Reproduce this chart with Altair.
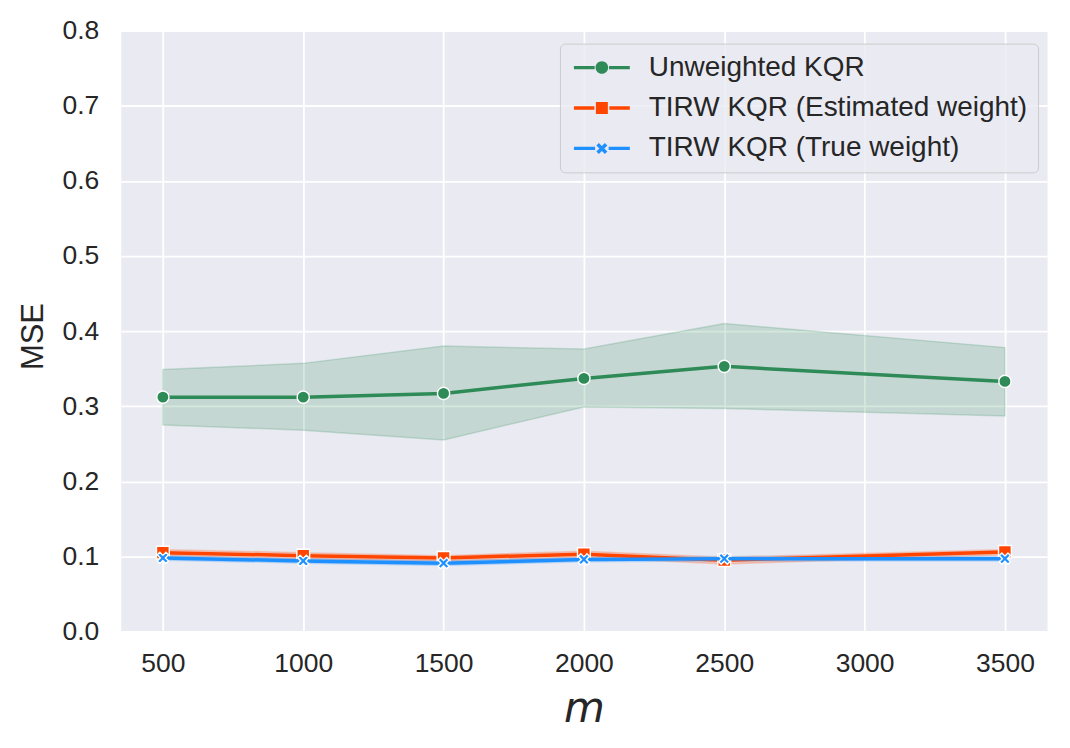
import altair as alt
import pandas as pd

# ---- data ----
m_vals = [500, 1000, 1500, 2000, 2500, 3500]
series_names = ["Unweighted KQR", "TIRW KQR (Estimated weight)", "TIRW KQR (True weight)"]
series_colors = ["#2E8B57", "#FF4500", "#1E90FF"]

unw_mean = [0.312, 0.312, 0.317, 0.337, 0.353, 0.333]
unw_lo = [0.275, 0.268, 0.255, 0.299, 0.297, 0.287]
unw_hi = [0.349, 0.357, 0.380, 0.376, 0.410, 0.378]

est_mean = [0.105, 0.101, 0.098, 0.103, 0.095, 0.106]
est_lo = [0.101, 0.097, 0.094, 0.099, 0.090, 0.102]
est_hi = [0.109, 0.105, 0.101, 0.107, 0.099, 0.109]

true_mean = [0.098, 0.094, 0.091, 0.096, 0.097, 0.097]
true_lo = [0.095, 0.091, 0.088, 0.093, 0.094, 0.094]
true_hi = [0.101, 0.097, 0.094, 0.099, 0.100, 0.100]

x_ticks = [500, 1000, 1500, 2000, 2500, 3000, 3500]
y_ticks = [0.0, 0.1, 0.2, 0.3, 0.4, 0.5, 0.6, 0.7, 0.8]

# ---- marker shapes ----
X_PATH = ("M1,-0.547L0.4525,0L1,0.547L0.547,1L0,0.4525L-0.547,1L-1,0.547"
          "L-0.4525,0L-1,-0.547L-0.547,-1L0,-0.4525L0.547,-1Z")
point_shapes = ["circle", "square", X_PATH]
point_sizes = [150, 165, 125]

LEG_CIRCLE = ("M-2.8,-0.17H-0.72V0.17H-2.8Z M0.72,-0.17H2.8V0.17H0.72Z "
              "M0.63,0A0.63,0.63,0,1,1,-0.63,0A0.63,0.63,0,1,1,0.63,0Z")
LEG_SQUARE = ("M-2.8,-0.17H-0.75V0.17H-2.8Z M0.75,-0.17H2.8V0.17H0.75Z "
              "M-0.6,-0.6H0.6V0.6H-0.6Z")
LEG_X = ("M-2.8,-0.17H-0.68V0.17H-2.8Z M0.68,-0.17H2.8V0.17H0.68Z "
         "M0.55,-0.3L0.249,0L0.55,0.3L0.3,0.55L0,0.249L-0.3,0.55L-0.55,0.3"
         "L-0.249,0L-0.55,-0.3L-0.3,-0.55L0,-0.249L0.3,-0.55Z")
legend_shapes = [LEG_CIRCLE, LEG_SQUARE, LEG_X]

rows = []
for name, mean, lo, hi in zip(series_names,
                              [unw_mean, est_mean, true_mean],
                              [unw_lo, est_lo, true_lo],
                              [unw_hi, est_hi, true_hi]):
    for x, a, b, c in zip(m_vals, mean, lo, hi):
        rows.append({"series": name, "m": x, "mse": a, "lo": b, "hi": c})
df = pd.DataFrame(rows)

FONT = "Liberation Sans"
TXT = "#262626"
BG = "#EAEAF2"

x_scale = alt.Scale(domain=[350, 3650], nice=False, zero=False)
y_scale = alt.Scale(domain=[0, 0.8], nice=False)
x_axis = alt.Axis(values=x_ticks, format="d", title="m", labelPadding=19, titleFont="DejaVu Sans",
                  titleFontStyle="italic", titleFontWeight="normal", titleFontSize=42,
                  titleY=90, titleBaseline="alphabetic", labelFlush=False)
y_axis = alt.Axis(values=y_ticks, format=".1f", title="MSE", labelPadding=22,
                  titleFont=FONT, titleFontWeight="normal", titleFontSize=31,
                  titleX=-78, titleY=306, titleBaseline="alphabetic", titleAlign="center",
                  titleAngle=270)

x_enc = alt.X("m:Q", scale=x_scale, axis=x_axis)

base = alt.Chart(df)
layers = []
for name, col in zip(series_names, series_colors):
    layers.append(
        base.transform_filter(alt.datum.series == name)
        .mark_area(color=col, fillOpacity=0.2, stroke=col, strokeOpacity=0.2, strokeWidth=1.5)
        .encode(x=x_enc, y=alt.Y("lo:Q", scale=y_scale, axis=y_axis), y2="hi:Q")
    )
for name, col, shp, sz in zip(series_names, series_colors, point_shapes, point_sizes):
    sub = base.transform_filter(alt.datum.series == name)
    layers.append(
        sub.mark_line(color=col, strokeWidth=3.5)
        .encode(x=x_enc, y=alt.Y("mse:Q", scale=y_scale, axis=y_axis))
    )
    layers.append(
        sub.mark_point(shape=shp, size=sz, filled=True, fill=col, stroke="white",
                       strokeWidth=1.4, opacity=1)
        .encode(x=x_enc, y=alt.Y("mse:Q", scale=y_scale, axis=y_axis))
    )

leg = alt.Legend(orient="none", legendX=440, legendY=13, padding=10, rowPadding=12.5,
                 symbolSize=400, symbolOffset=18, labelOffset=33, symbolStrokeWidth=0,
                 symbolOpacity=1, labelFont=FONT, labelFontSize=28, labelColor=TXT,
                 labelLimit=700, fillColor="rgba(234,234,242,0.8)", strokeColor="#CCCCCC",
                 cornerRadius=5)
layers.append(
    base.transform_filter("false")
    .mark_point(filled=True, opacity=1)
    .encode(
        color=alt.Color("series:N", scale=alt.Scale(domain=series_names, range=series_colors),
                        legend=leg, title=None),
        shape=alt.Shape("series:N", scale=alt.Scale(domain=series_names, range=legend_shapes),
                        legend=leg, title=None),
    )
)

chart = (
    alt.layer(*layers)
    .properties(width=928, height=602, background="white",
                view=alt.ViewBackground(fill=BG, stroke="transparent"),
                autosize=alt.AutoSizeParams(type="none"),
                padding={"left": 113, "top": 22, "right": 15, "bottom": 100})
    .configure_view(fill=BG, stroke="transparent")
    .configure_axis(grid=True, gridColor="white", gridWidth=1.8, domain=False, ticks=False,
                    tickSize=0, labelFont=FONT, labelFontSize=26.5, labelColor=TXT,
                    titleColor=TXT)
)

chart.save("out.html", embed_options={"renderer": "svg", "actions": False})
